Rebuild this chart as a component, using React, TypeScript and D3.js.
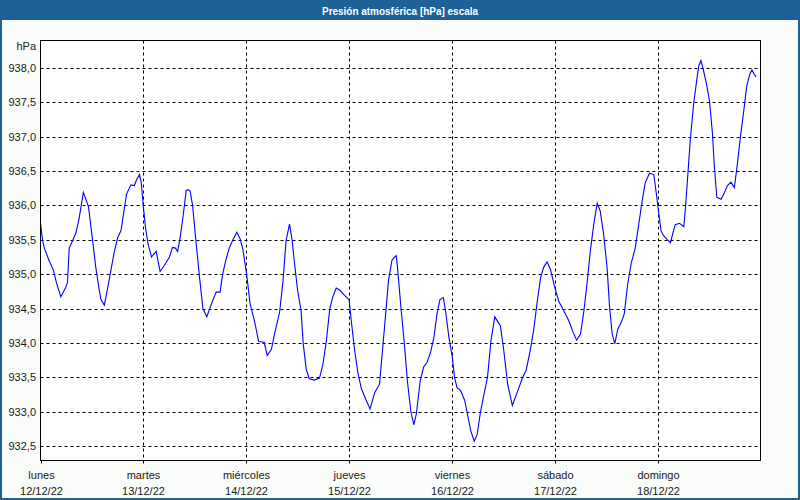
import * as d3 from "d3";

const dayNames = ["lunes", "martes", "miércoles", "jueves", "viernes", "sábado", "domingo"];
const dayDates = ["12/12/22", "13/12/22", "14/12/22", "15/12/22", "16/12/22", "17/12/22", "18/12/22"];
const yTicks = [932.5, 933.0, 933.5, 934.0, 934.5, 935.0, 935.5, 936.0, 936.5, 937.0, 937.5, 938.0];

// hours since 12/12/22 00:00
const hours = [
    0, 0.5, 0.9, 2, 3, 3.7, 4.75, 5.9, 6.3, 6.7, 7.5, 8.3, 9, 10, 10.7, 11.2, 12.2, 12.9, 13.6, 14.1,
    14.9, 15.7, 16.4, 17.2, 18, 18.8, 19.3, 20.1, 21.1, 21.9, 22.4, 23.1, 23.5, 24, 24.5, 25.1, 25.9,
    26.4, 27, 27.4, 27.9, 28.9, 30.1, 30.8, 31.5, 32, 32.6, 33.2, 34, 34.4, 34.9, 35.5, 36.1, 37.1,
    37.9, 38.8, 39.6, 40.2, 41, 41.9, 42.5, 43.3, 44.1, 44.9, 45.8, 46.6, 47.2, 48.1, 48.9, 49.9, 50.9,
    52.2, 52.9, 53.9, 54.6, 55.8, 56.6, 57.3, 58.1, 58.7, 59.2, 60, 60.8, 61.3, 62, 62.7, 63.9, 65.1,
    65.9, 66.7, 67.5, 68.2, 69, 69.8, 71, 72, 72.5, 73.3, 74.1, 74.9, 75.9, 76.9, 78, 79.1, 79.8, 80.6,
    81.2, 82, 82.5, 83, 83.3, 84.1, 84.9, 85.6, 86.4, 87.1, 87.7, 88.6, 89.4, 90.2, 91, 91.8, 92.5,
    93.2, 94, 94.5, 95.3, 96.1, 96.6, 97.2, 98, 99, 99.6, 100.4, 101.2, 101.9, 102.6, 103.4, 104.3,
    105.1, 106, 107.3, 108.1, 109, 110.1, 111.4, 112.5, 113.3, 114.3, 115.1, 115.9, 116.7, 117.4,
    118.2, 119, 119.9, 120.9, 122.1, 123.3, 124.3, 125.1, 126, 126.8, 127.5, 128.3, 129.1, 129.9,
    130.6, 131.4, 132.2, 132.8, 133.4, 134, 134.7, 135.5, 136.2, 137, 137.8, 138.8, 139.6, 140.4,
    141.1, 142.1, 143.1, 143.7, 144.2, 144.8, 145.4, 146.3, 147, 147.6, 148.1, 149.1, 150.1, 150.5,
    151, 151.6, 152.4, 153.2, 153.6, 154.1, 154.6, 155.4, 156.1, 156.8, 157.2, 157.8, 158.8, 159.6,
    160.3, 161.1, 161.9, 162.5, 163.3, 164.1, 164.8, 165.5, 166, 166.5, 167,
];

const pressure = [
    935.74, 935.49, 935.38, 935.2, 935.06, 934.88, 934.67, 934.81, 934.88, 935.38, 935.49, 935.61,
    935.81, 936.19, 936.07, 935.98, 935.47, 935.1, 934.81, 934.63, 934.55, 934.81, 935.05, 935.32,
    935.53, 935.64, 935.85, 936.17, 936.3, 936.29, 936.37, 936.45, 936.34, 935.98, 935.68, 935.44,
    935.25, 935.29, 935.33, 935.2, 935.04, 935.13, 935.25, 935.39, 935.38, 935.33, 935.54, 935.81,
    936.22, 936.23, 936.21, 936.0, 935.59, 934.96, 934.5, 934.38, 934.52, 934.62, 934.74, 934.74,
    935.0, 935.22, 935.39, 935.5, 935.61, 935.51, 935.37, 935.0, 934.57, 934.33, 934.02, 934.01,
    933.82, 933.91, 934.13, 934.45, 934.91, 935.49, 935.73, 935.5, 935.2, 934.76, 934.47, 933.99,
    933.62, 933.48, 933.46, 933.49, 933.69, 934.03, 934.5, 934.67, 934.8, 934.77, 934.69, 934.63,
    934.33, 933.89, 933.55, 933.33, 933.18, 933.04, 933.28, 933.4, 933.89, 934.47, 934.91, 935.2,
    935.24, 935.27, 935.1, 934.52, 933.99, 933.45, 933.01, 932.81, 932.97, 933.45, 933.65, 933.72,
    933.86, 934.08, 934.42, 934.63, 934.66, 934.47, 934.08, 933.79, 933.5, 933.35, 933.31, 933.16,
    932.97, 932.72, 932.57, 932.67, 932.97, 933.23, 933.5, 934.03, 934.38, 934.25, 933.89, 933.4,
    933.09, 933.31, 933.5, 933.6, 933.9, 934.2, 934.6, 934.95, 935.1, 935.18, 935.07, 934.83,
    934.61, 934.47, 934.32, 934.15, 934.04, 934.13, 934.47, 934.85, 935.34, 935.73, 936.03, 935.92,
    935.58, 935.1, 934.51, 934.13, 933.99, 934.2, 934.3, 934.42, 934.85, 935.15, 935.39, 935.73,
    936.07, 936.33, 936.47, 936.45, 936.17, 935.92, 935.63, 935.56, 935.5, 935.46, 935.61, 935.72,
    935.74, 935.69, 935.97, 936.41, 936.94, 937.48, 937.86, 938.03, 938.11, 937.99, 937.77, 937.52,
    937.04, 936.6, 936.12, 936.09, 936.19, 936.29, 936.34, 936.26, 936.55, 936.99, 937.38, 937.74,
    937.91, 937.97, 937.91, 937.87,
];

const W = 800;
const H = 500;
const plot = { left: 40.5, right: 760.5, top: 40.5, bottom: 460.5 };
const font = "'Liberation Sans', Arial, sans-serif";

export default function App() {
    const x = d3.scaleLinear().domain([0, dayNames.length * 24]).range([plot.left, plot.right]);
    const y = d3.scaleLinear().domain([932.29, 938.4]).range([plot.bottom, plot.top]);

    const pts = hours.map((h, i) => [h, pressure[i]] as [number, number]);
    const line = d3.line<[number, number]>()
        .x(d => x(d[0]))
        .y(d => y(d[1]));

    const fmt = (v: number) => v.toFixed(1).replace(".", ",");

    return (
        <div style={{ position: "absolute", left: 0, top: 0, width: W, height: H }}>
            <svg width={W} height={H} style={{ display: "block" }}>
                <rect x={0} y={0} width={W} height={H} fill="#1d6196" />
                <rect x={2} y={20} width={W - 4} height={H - 22} fill="#f9fcf9" />
                <text x={400} y={14.5} textAnchor="middle" fill="#fff" fontFamily={font}
                    fontWeight="bold" fontSize={11.5} textLength={156} lengthAdjust="spacingAndGlyphs">
                    Presión atmosférica [hPa] escala
                </text>

                <rect x={plot.left} y={plot.top} width={plot.right - plot.left} height={plot.bottom - plot.top}
                    fill="#ffffff" />

                {/* horizontal grid */}
                {yTicks.map(t => (
                    <line key={"h" + t} x1={plot.left} x2={plot.right} y1={Math.round(y(t)) + 0.5}
                        y2={Math.round(y(t)) + 0.5} stroke="#000" strokeWidth={1} strokeDasharray="3,3" />
                ))}
                {/* vertical grid */}
                {dayNames.slice(1).map((d, i) => {
                    const xx = Math.round(x((i + 1) * 24)) + 0.5;
                    return (
                        <line key={"v" + d} x1={xx} x2={xx} y1={plot.top} y2={plot.bottom}
                            stroke="#000" strokeWidth={1} strokeDasharray="3,3" />
                    );
                })}

                <path d={line(pts) || ""} fill="none" stroke="#0000ff" strokeWidth={1.1} />

                <rect x={plot.left} y={plot.top} width={plot.right - plot.left} height={plot.bottom - plot.top}
                    fill="none" stroke="#000" strokeWidth={1} />

                {/* y labels */}
                <text x={36} y={50} textAnchor="end" fontFamily={font} fontSize={11} fill="#1a1a1a">hPa</text>
                {yTicks.map(t => (
                    <text key={"yl" + t} x={36} y={y(t) + 4} textAnchor="end" fontFamily={font}
                        fontSize={11} fill="#1a1a1a">{fmt(t)}</text>
                ))}

                {/* x ticks + labels */}
                {dayNames.map((d, i) => {
                    const xx = Math.round(x(i * 24)) + 0.5;
                    return (
                        <g key={"xl" + d}>
                            <line x1={xx} x2={xx} y1={plot.bottom} y2={plot.bottom + 3} stroke="#000" />
                            <text x={xx} y={479} textAnchor="middle" fontFamily={font} fontSize={11}
                                fill="#1a1a1a">{d}</text>
                            <text x={xx} y={495} textAnchor="middle" fontFamily={font} fontSize={11}
                                fill="#1a1a1a">{dayDates[i]}</text>
                        </g>
                    );
                })}
            </svg>
        </div>
    );
}
